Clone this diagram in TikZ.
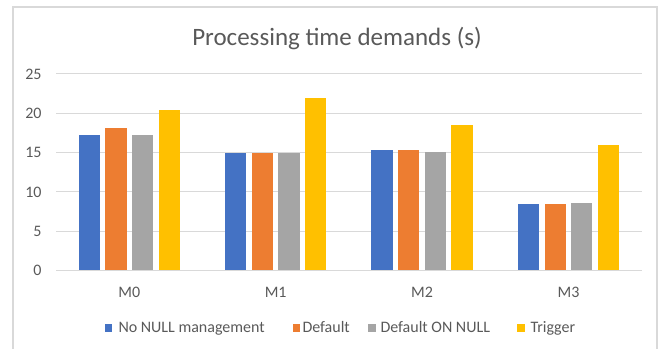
\documentclass[tikz,border=0pt]{standalone}
\usepackage{fontspec}
\setmainfont{Carlito}
\usetikzlibrary{positioning}

\definecolor{nullblue}{HTML}{4472C4}
\definecolor{defaultorange}{HTML}{ED7D31}
\definecolor{onnullgray}{HTML}{A5A5A5}
\definecolor{triggeryellow}{HTML}{FFC000}
\definecolor{labelgray}{HTML}{595959}
\definecolor{linegray}{HTML}{D9D9D9}

\tikzset{every picture/.style={line width=0.75pt}}

\begin{document}
\begin{tikzpicture}[x=0.75pt,y=0.75pt,yscale=-1,xscale=1,
    gridline/.style={draw=linegray,line width=0.75},
    ticklabel/.style={anchor=east,inner sep=0.75pt,text=labelgray,font=\fontsize{12}{14}\selectfont},
    catlabel/.style={anchor=base,inner sep=0.75pt,text=labelgray,font=\fontsize{12}{14}\selectfont},
    legendkey/.style={minimum size=5.6pt,inner sep=0pt},
    legendtext/.style={anchor=base west,inner sep=0.75pt,text=labelgray,font=\fontsize{12}{14}\selectfont},
    bar/.style={draw=none}]
    \path[use as bounding box] (0,0) rectangle (662,349);

    %Frame
    \draw [color=linegray][line width=1.5]  (13,349) -- (13,7) -- (657,7) -- (657,349) ;

    % Title Node
    \node [anchor=base][inner sep=0.75pt][text=labelgray][font=\fontsize{18.75}{22}\selectfont] (title) at (337,46) {Processing time demands (s)};

    %Gridlines and axis values
    \foreach \v in {0,5,...,25} {
        \draw [gridline] (56,{270.5-7.86*\v}) -- (642,{270.5-7.86*\v}) ;
        \node [ticklabel] (tick\v) at (43,{270.5-7.86*\v}) {\v};
    }

    %Bars, one group per configuration
    \foreach \g/\a/\b/\c/\d [count=\i from 0] in {M0/17.3/18.1/17.3/20.4, M1/14.9/15.0/15.0/22.0, M2/15.3/15.3/15.1/18.5, M3/8.45/8.45/8.65/16.0} {
        \pgfmathsetmacro{\cx}{129.3+146.4*\i}
        \fill [bar,nullblue] ({\cx-50.65},270.5) rectangle ({\cx-29.35},{270.5-7.86*\a}) ;
        \fill [bar,defaultorange] ({\cx-23.95},270.5) rectangle ({\cx-2.65},{270.5-7.86*\b}) ;
        \fill [bar,onnullgray] ({\cx+2.65},270.5) rectangle ({\cx+23.95},{270.5-7.86*\c}) ;
        \fill [bar,triggeryellow] ({\cx+29.35},270.5) rectangle ({\cx+50.65},{270.5-7.86*\d}) ;
        % Text Node
        \node [catlabel] (cat\i) at (\cx,298) {\g};
    }

    %Legend
    \node [legendkey,fill=nullblue] (keynull) at (108.5,328) {};
    \node [legendtext] (labnull) at (117,333) {No NULL management};
    \node [legendkey,fill=defaultorange] (keydefault) at (296.5,328) {};
    \node [legendtext] (labdefault) at (301,333) {Default};
    \node [legendkey,fill=onnullgray] (keyonnull) at (372,328) {};
    \node [legendtext] (labonnull) at (379,333) {Default ON NULL};
    \node [legendkey,fill=triggeryellow] (keytrigger) at (521,328) {};
    \node [legendtext] (labtrigger) at (529,333) {Trigger};

\end{tikzpicture}
\end{document}
